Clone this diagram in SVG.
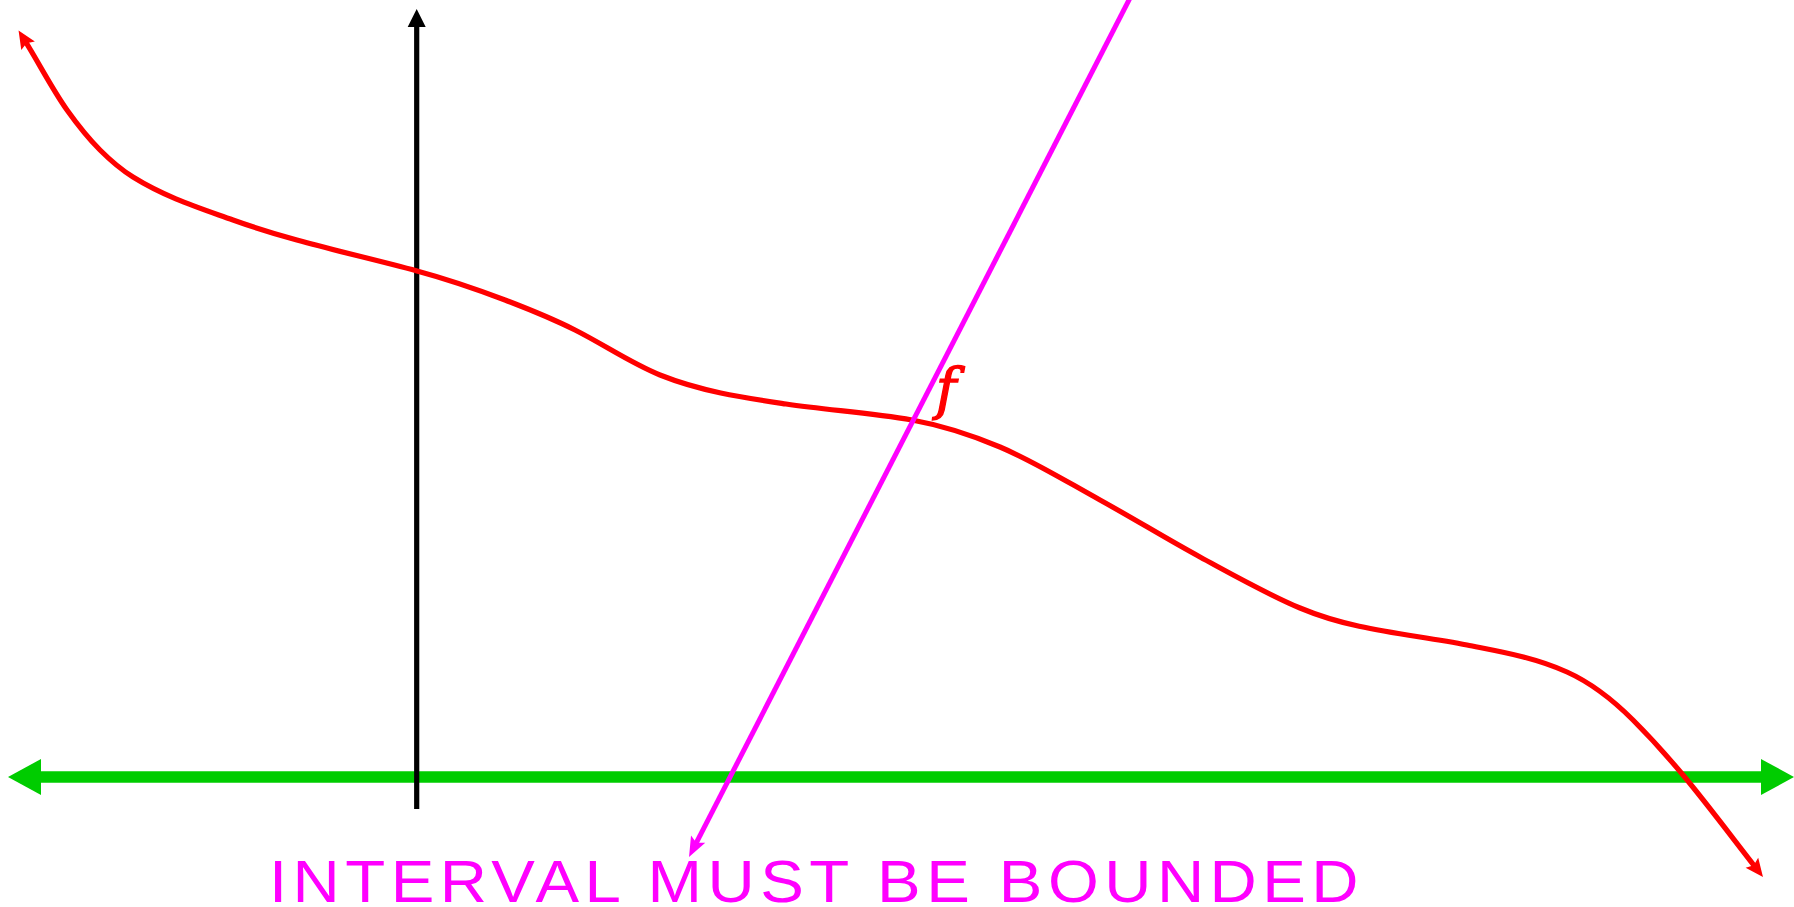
<svg xmlns="http://www.w3.org/2000/svg" width="1794" height="907" viewBox="0 0 1794 907">
<style>
.red{fill:none;stroke:#ff0000;stroke-width:5.2}
.blk{fill:none;stroke:#000;stroke-width:5.2}
.grn{fill:none;stroke:#00cc00;stroke-width:11.5}
.mag{fill:none;stroke:#ff00ff;stroke-width:5}
.lbl{font-family:"Liberation Sans",Arial,sans-serif;font-size:60px;fill:#ff00ff;letter-spacing:5px}
.f{font-family:"DejaVu Serif","Liberation Serif",serif;font-style:italic;font-size:56px;fill:#ff0000;stroke:#ff0000;stroke-width:1.3}
</style>
<defs>
<marker id="ar" markerUnits="userSpaceOnUse" viewBox="-18 -9 20 18" refX="-12" refY="0" markerWidth="20" markerHeight="18" orient="auto-start-reverse" overflow="visible"><path d="M0,0 L-18,-8 L-15,0 L-18,8 Z" fill="#ff0000"/></marker>
<marker id="ab" markerUnits="userSpaceOnUse" viewBox="-18 -10 20 20" refX="-12" refY="0" markerWidth="20" markerHeight="20" orient="auto" overflow="visible"><path d="M0,0 L-18,-9 L-18,9 Z" fill="#000"/></marker>
<marker id="ag" markerUnits="userSpaceOnUse" viewBox="-34 -19 36 38" refX="-24" refY="0" markerWidth="36" markerHeight="38" orient="auto-start-reverse" overflow="visible"><path d="M0,0 L-33,-18 L-33,18 Z" fill="#00cc00"/></marker>
<marker id="am" markerUnits="userSpaceOnUse" viewBox="-20 -9 22 18" refX="-12" refY="0" markerWidth="22" markerHeight="18" orient="auto" overflow="visible"><path d="M0,0 L-20,-8 L-16,0 L-20,8 Z" fill="#ff00ff"/></marker>
</defs>
<g id="connectors">
<path id="x-axis" class="grn" d="M32,777 L1770,777" marker-start="url(#ag)" marker-end="url(#ag)"/>
<path id="y-axis" class="blk" d="M416.7,809 L416.7,21" marker-end="url(#ab)"/>
<path id="curve-f" class="red" marker-start="url(#ar)" marker-end="url(#ar)" d="M24.9,40.7 C38.9,63.2 53,90.4 67,110 C78,125.4 89,139 100,150 C111,161 122,170.2 133,177 C166.3,197.7 199.7,208 233,220 C294.3,242.1 355.7,254.4 417,271 C446.3,278.9 475.7,288.9 505,300 C528.3,308.9 551.7,318.3 575,330 C603.3,344.2 631.7,363.7 660,375 C702,391.8 744,397.7 786,404 C828,410.3 870,412.4 912,420 C941.3,425.3 970.7,434.7 1000,447 C1033.3,461 1066.7,481.7 1100,500 C1133.3,518.3 1166.7,539 1200,557 C1233.3,575 1266.7,594 1300,608 C1355.7,631.4 1411.3,633.9 1467,645 C1500.3,651.7 1533.7,657 1567,672 C1589,681.9 1611,698 1633,720 C1649.7,736.7 1666.3,755 1683,775 C1707.2,804 1731.4,836.5 1755.6,867.5"/>
<path id="pointer" class="mag" d="M1134.1,-10 L694.5,846.3" marker-end="url(#am)"/>
</g>
<g id="label-f"><text class="f" x="946" y="408" text-anchor="middle">f</text></g>
<g id="label-interval"><text class="lbl" x="269" y="902" textLength="1095" lengthAdjust="spacingAndGlyphs">INTERVAL MUST BE BOUNDED</text></g>
</svg>
